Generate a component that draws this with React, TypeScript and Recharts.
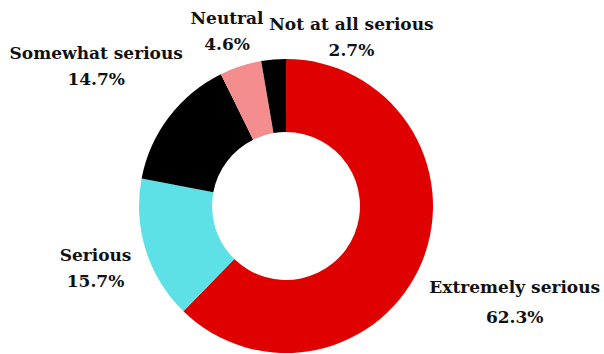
import { Cell, Pie, PieChart } from 'recharts'

// Share of respondents per answer, clockwise from 12 o'clock.
const categories = ['Extremely serious', 'Serious', 'Somewhat serious', 'Neutral', 'Not at all serious']
const shares = [62.3, 15.7, 14.7, 4.6, 2.7]
const colors = ['#df0000', '#5ee1e6', '#000000', '#f48e8e', '#000000']

// Label placement: radial point past the ring, then a small nudge so the
// text blocks sit where the original puts them (avoids the top collision).
const LABEL_RADIAL_GAP = 60
const labelNudges: [number, number][] = [
  [37, 18],
  [7, 0],
  [-25, -15],
  [5, 22],
  [83, 37],
]

const RAD = Math.PI / 180
const FONT = '"DejaVu Serif", "Liberation Serif", serif'

const data = categories.map((name, i) => ({ name, value: shares[i] }))

function renderLabel(props: any) {
  const { cx, cy, midAngle, outerRadius, index, name, value } = props
  const r = outerRadius + LABEL_RADIAL_GAP
  const [dx, dy] = labelNudges[index] ?? [0, 0]
  const x = cx + r * Math.cos(-midAngle * RAD) + dx
  const y = cy + r * Math.sin(-midAngle * RAD) + dy
  const half = index === 0 ? 15 : 13
  const common = {
    x,
    textAnchor: 'middle' as const,
    dominantBaseline: 'central' as const,
    fill: '#111',
    fontFamily: FONT,
    fontWeight: 700,
    fontSize: 17,
  }
  return (
    <g key={`lbl-${index}`}>
      <text {...common} y={y - half}>{name}</text>
      <text {...common} y={y + half}>{`${Number(value).toFixed(1)}%`}</text>
    </g>
  )
}

export default function App() {
  return (
    <div style={{ position: 'absolute', left: 0, top: 0, width: 604, height: 354, background: '#fff' }}>
      <PieChart width={604} height={354} margin={{ top: 0, right: 0, bottom: 0, left: 0 }}>
        <Pie
          data={data}
          dataKey="value"
          nameKey="name"
          cx={286}
          cy={206}
          innerRadius={74}
          outerRadius={147}
          startAngle={90}
          endAngle={-270}
          stroke="none"
          labelLine={false}
          label={renderLabel}
          isAnimationActive={false}
        >
          {data.map((d, i) => (
            <Cell key={d.name} fill={colors[i]} />
          ))}
        </Pie>
      </PieChart>
    </div>
  )
}
